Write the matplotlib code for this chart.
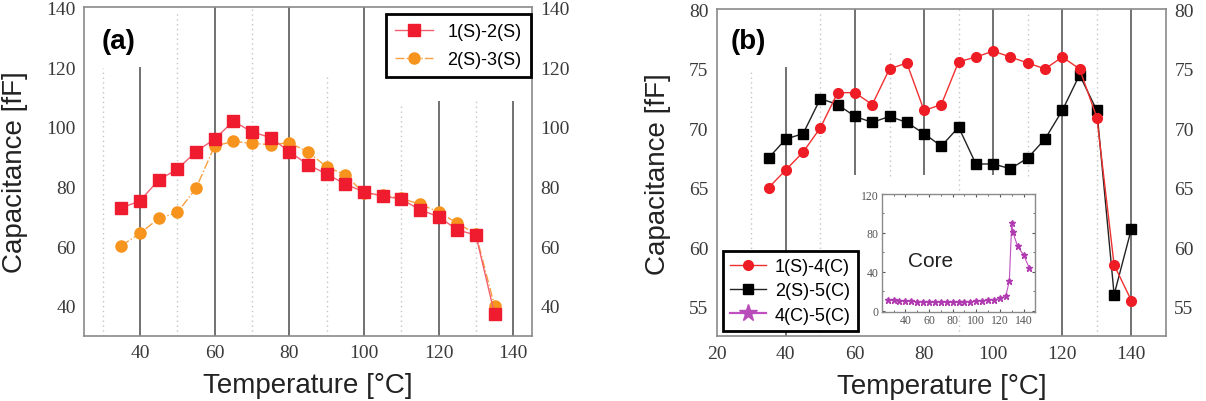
import numpy as np
import matplotlib
matplotlib.use("Agg")
import matplotlib.pyplot as plt

# ---- data ----
temp_a = [35, 40, 45, 50, 55, 60, 65, 70, 75, 80, 85, 90, 95, 100, 105,
          110, 115, 120, 125, 130, 135]
cap_12 = [72.8, 75.2, 82.2, 85.8, 91.7, 95.9, 101.9, 98.3, 96.4, 91.7, 87.3,
          84.2, 80.8, 78.2, 76.8, 75.8, 72.2, 69.9, 65.5, 63.7, 37.3]
cap_23 = [60.2, 64.3, 69.3, 71.3, 79.4, 93.6, 95.1, 94.5, 94.0, 94.7, 91.6,
          86.6, 83.9, 77.8, 77.1, 76.0, 74.1, 71.5, 67.7, 64.1, 40.0]

temp_b = [35, 40, 45, 50, 55, 60, 65, 70, 75, 80, 85, 90, 95, 100, 105,
          110, 115, 120, 125, 130, 135, 140]
cap_14 = [65.0, 66.5, 68.0, 70.05, 73.0, 73.0, 72.0, 75.0, 75.5, 71.5, 72.0,
          75.6, 76.0, 76.5, 76.0, 75.5, 75.0, 76.0, 75.0, 70.9, 58.5, 55.5]
cap_25 = [67.5, 69.1, 69.55, 72.5, 72.0, 71.0, 70.5, 71.0, 70.5, 69.55, 68.5,
          70.1, 67.0, 67.0, 66.6, 67.5, 69.1, 71.5, 74.5, 71.5, 56.0, 61.55]

temp_core = [25, 30, 35, 40, 45, 50, 55, 60, 65, 70, 75, 80, 85, 90, 95, 100,
             105, 110, 115, 120, 125, 128, 130, 131, 135, 140, 145]
cap_45 = [10.5, 10.5, 10, 9.5, 9.5, 9, 9, 8.5, 8.5, 8.5, 8.5, 8.5, 8.5, 9, 9,
          9.5, 10, 11, 11, 12.5, 15, 30.6, 90.4, 80.7, 66, 57.4, 43.5]

xticks_a = [40, 60, 80, 100, 120, 140]
yticks_a = [40, 60, 80, 100, 120, 140]
xticks_b = [20, 40, 60, 80, 100, 120, 140]
yticks_b = [55, 60, 65, 70, 75, 80]

SERIF = "Liberation Serif"
SANS = "Liberation Sans"
GRID_DARK = "#4a4a4a"
GRID_DOT = "#c4c4c4"
SPINE = "#8a8a8a"


def style_axes(ax, xticks, yticks):
    for sp in ax.spines.values():
        sp.set_color(SPINE)
        sp.set_linewidth(1.2)
    ax.set_xticks(xticks)
    ax.set_yticks(yticks)
    ax.tick_params(direction="in", length=0, labelsize=14, colors="#3a3a3a",
                   right=True, labelright=True, pad=6)
    for lab in ax.get_xticklabels() + ax.get_yticklabels():
        lab.set_fontfamily(SERIF)
    ax.set_xlabel("Temperature [\u00b0C]", fontsize=20, family=SANS,
                  color="#222222", labelpad=8)
    ax.set_ylabel("Capacitance [fF]", fontsize=20, family=SANS,
                  color="#222222", labelpad=13)


def draw_grid(ax, solid, dotted):
    for x, y0, y1 in solid:
        ax.vlines(x, y0, y1, colors=GRID_DARK, linewidth=1.1, zorder=1)
    for x, y0, y1 in dotted:
        ax.vlines(x, y0, y1, colors=GRID_DOT, linewidth=1.0,
                  linestyles=(0, (1, 2.5)), zorder=1)


fig = plt.figure(figsize=(12.06, 4.02), dpi=100)

# ---- panel (a) ----
ax_a = fig.add_axes([0.0697, 0.1624, 0.3713, 0.8165])
ax_a.set_xlim(25, 145)
ax_a.set_ylim(30, 140)
draw_grid(ax_a,
          solid=[(40, 30, 120), (60, 30, 140), (80, 30, 140), (100, 30, 140),
                 (120, 30, 108.6), (140, 30, 108.6)],
          dotted=[(30, 30, 119.6), (50, 30, 138.7), (70, 30, 140),
                  (90, 30, 117), (110, 30, 107), (130, 30, 108.6)])
ax_a.plot(temp_a, cap_12, color="#f26070", linestyle="-", linewidth=1.0,
          marker="s", markersize=8, markerfacecolor="#ee1c2e",
          markeredgecolor="#ee1c2e", label="1(S)-2(S)", zorder=3)
ax_a.plot(temp_a, cap_23, color="#f7a040", linestyle="-.", linewidth=1.0,
          marker="o", markersize=8, markerfacecolor="#f7941d",
          markeredgecolor="#f7941d", label="2(S)-3(S)", zorder=2)
style_axes(ax_a, xticks_a, yticks_a)
ax_a.text(0.078, 0.898, "(a)", transform=ax_a.transAxes, fontsize=20,
          fontweight="bold", family=SANS, ha="center", va="center")
leg_a = ax_a.legend(loc="upper right", bbox_to_anchor=(0.997, 0.98),
                    borderaxespad=0, fancybox=False, framealpha=1,
                    edgecolor="black", handlelength=2.1, labelspacing=0.6,
                    borderpad=0.5, prop={"family": SANS, "size": 13})
leg_a.get_frame().set_linewidth(2.0)

# ---- panel (b) ----
ax_b = fig.add_axes([0.5943, 0.161, 0.3725, 0.8129])
ax_b.set_xlim(20, 150)
ax_b.set_ylim(52.5, 80)
draw_grid(ax_b,
          solid=[(40, 52.5, 75.2), (60, 66.1, 80), (80, 66.1, 80),
                 (100, 66.1, 80), (120, 52.5, 80), (140, 52.5, 80)],
          dotted=[(30, 52.5, 75), (50, 52.5, 79.8), (70, 66, 76.5),
                  (90, 52.5, 80), (110, 66, 79.8), (130, 52.5, 80)])
ax_b.plot(temp_b, cap_14, color="#f03030", linewidth=1.0, marker="o",
          markersize=7, markerfacecolor="#ee1c24", markeredgecolor="#ee1c24",
          label="1(S)-4(C)", zorder=3)
ax_b.plot(temp_b, cap_25, color="#222222", linewidth=1.0, marker="s",
          markersize=7, markerfacecolor="black", markeredgecolor="black",
          label="2(S)-5(C)", zorder=2)
ax_b.plot([], [], color="#c050c0", linewidth=1.6, marker="*", markersize=13,
          markerfacecolor="#b84cb8", markeredgecolor="#b84cb8",
          label="4(C)-5(C)")
style_axes(ax_b, xticks_b, yticks_b)
ax_b.text(0.07, 0.904, "(b)", transform=ax_b.transAxes, fontsize=20,
          fontweight="bold", family=SANS, ha="center", va="center")
leg_b = ax_b.legend(loc="lower left", bbox_to_anchor=(0.013, 0.017),
                    borderaxespad=0, fancybox=False, framealpha=1,
                    edgecolor="black", handlelength=2.0, labelspacing=0.4,
                    borderpad=0.4, handletextpad=0.5,
                    prop={"family": SANS, "size": 13})
leg_b.get_frame().set_linewidth(2.0)

# ---- inset: core ----
ins = fig.add_axes([0.7311, 0.2226, 0.1274, 0.2923])
ins.set_xlim(20, 150)
ins.set_ylim(-1, 120)
ins.plot(temp_core, cap_45, color="#c050c0", linewidth=0.8, marker="*",
         markersize=5, markerfacecolor="#b03ab0", markeredgecolor="#b03ab0")
for sp in ins.spines.values():
    sp.set_color(SPINE)
    sp.set_linewidth(1.0)
ins.set_xticks(np.arange(40, 141, 20))
ins.set_yticks([0, 40, 80, 120])
ins.set_xticks(np.arange(30, 150, 10), minor=True)
ins.set_yticks(np.arange(0, 121, 20), minor=True)
ins.tick_params(which="both", direction="in", top=True, right=True,
                colors="#555555", labelsize=8.5, pad=2)
ins.tick_params(which="major", length=2.5)
ins.tick_params(which="minor", length=1.5)
for lab in ins.get_xticklabels() + ins.get_yticklabels():
    lab.set_fontfamily(SERIF)
ins.text(0.32, 0.43, "Core", transform=ins.transAxes, fontsize=15,
         family=SANS, ha="center", va="center", color="#222222")

fig.savefig("out.png", dpi=100)
